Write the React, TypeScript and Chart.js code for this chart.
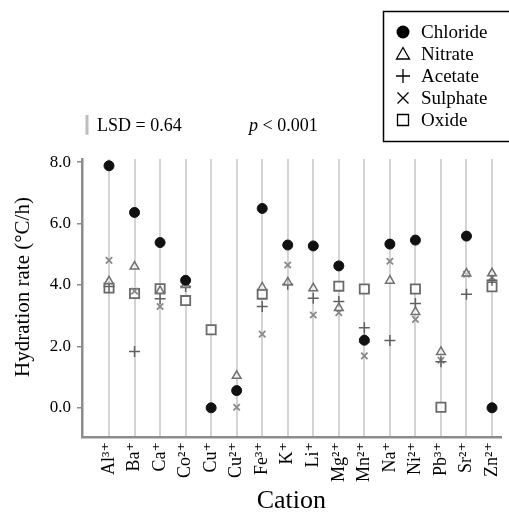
import React, { useEffect, useRef } from "react";
import { Chart, registerables } from "chart.js";

Chart.register(...registerables);

const FAMILY = '"Liberation Serif", "Times New Roman", "DejaVu Serif", serif';

const cations = ["Al³⁺", "Ba⁺", "Ca⁺", "Co²⁺", "Cu⁺", "Cu²⁺", "Fe³⁺", "K⁺", "Li⁺", "Mg²⁺", "Mn²⁺", "Na⁺", "Ni²⁺", "Pb³⁺", "Sr²⁺", "Zn²⁺"];

const chloride = [7.88, 6.36, 5.38, 4.15, 0.0, 0.56, 6.49, 5.3, 5.27, 4.62, 2.2, 5.33, 5.46, null, 5.59, 0.0];
const nitrate = [4.12, 4.6, 3.8, 4.0, null, 1.04, 3.92, 4.08, 3.89, 3.25, 2.22, 4.14, 3.12, 1.82, 4.37, 4.38];
const acetate = [3.95, 1.83, 3.55, 3.95, null, null, 3.3, 4.02, 3.57, 3.46, 2.61, 2.19, 3.4, 1.5, 3.7, 4.15];
const sulphate = [4.8, 3.8, 3.3, 4.05, null, 0.02, 2.4, 4.65, 3.02, 3.1, 1.69, 4.77, 2.88, 1.55, 4.35, 4.25];
const oxide = [3.9, 3.72, 3.88, 3.49, 2.54, null, 3.7, null, null, 3.96, 3.87, null, 3.87, 0.02, null, 3.94];

const yTicks = [0, 2, 4, 6, 8];
const LSD = 0.64;
const seriesNames = ["Chloride", "Nitrate", "Acetate", "Sulphate", "Oxide"];
const yTitle = "Hydration rate (°C/h)";

const toPoints = (arr: (number | null)[]) =>
  arr.map((v, i) => (v == null ? null : { x: i, y: v })).filter((p) => p !== null);

function drawSymbol(ctx: CanvasRenderingContext2D, kind: string, x: number, y: number) {
  ctx.save();
  ctx.strokeStyle = "#000";
  ctx.fillStyle = "#000";
  ctx.lineWidth = 1.3;
  ctx.beginPath();
  if (kind === "circle") {
    ctx.arc(x, y, 6.5, 0, Math.PI * 2);
    ctx.fill();
  } else if (kind === "triangle") {
    ctx.moveTo(x, y - 6.5);
    ctx.lineTo(x + 6.5, y + 5);
    ctx.lineTo(x - 6.5, y + 5);
    ctx.closePath();
    ctx.stroke();
  } else if (kind === "cross") {
    ctx.moveTo(x - 7, y);
    ctx.lineTo(x + 7, y);
    ctx.moveTo(x, y - 7);
    ctx.lineTo(x, y + 7);
    ctx.stroke();
  } else if (kind === "crossRot") {
    ctx.moveTo(x - 5.5, y - 5.5);
    ctx.lineTo(x + 5.5, y + 5.5);
    ctx.moveTo(x + 5.5, y - 5.5);
    ctx.lineTo(x - 5.5, y + 5.5);
    ctx.stroke();
  } else if (kind === "rect") {
    ctx.rect(x - 5.5, y - 5.5, 11, 11);
    ctx.stroke();
  }
  ctx.restore();
}

const annotationPlugin = {
  id: "annotations",
  afterDraw(chart: any) {
    const ctx: CanvasRenderingContext2D = chart.ctx;
    ctx.save();
    // Legend box
    ctx.strokeStyle = "#000";
    ctx.lineWidth = 1.5;
    ctx.strokeRect(383.5, 11.5, 140, 130);
    const kinds = ["circle", "triangle", "cross", "crossRot", "rect"];
    const ys = [32, 54, 76, 98, 120];
    ctx.font = `19px ${FAMILY}`;
    ctx.fillStyle = "#000";
    ctx.textBaseline = "middle";
    ctx.textAlign = "left";
    seriesNames.forEach((name, i) => {
      drawSymbol(ctx, kinds[i], 403, ys[i]);
      ctx.fillText(name, 421, ys[i] + 1);
    });

    // LSD bar
    const yScale = chart.scales.y;
    const len = yScale.getPixelForValue(0) - yScale.getPixelForValue(LSD);
    ctx.fillStyle = "#bdbdbd";
    ctx.fillRect(85.5, 115, 3, len);
    ctx.fillStyle = "#000";
    ctx.font = `18px ${FAMILY}`;
    ctx.fillText(`LSD = ${LSD.toFixed(2)}`, 97, 126);
    ctx.font = `italic 18px ${FAMILY}`;
    ctx.fillText("p", 249, 126);
    const pw = ctx.measureText("p").width;
    ctx.font = `18px ${FAMILY}`;
    ctx.fillText(" < 0.001", 249 + pw, 126);

    // Y axis title
    ctx.save();
    ctx.translate(23, 287);
    ctx.rotate(-Math.PI / 2);
    ctx.font = `21px ${FAMILY}`;
    ctx.textAlign = "center";
    ctx.textBaseline = "middle";
    ctx.fillStyle = "#000";
    ctx.fillText(yTitle, 0, 0);
    ctx.restore();
    ctx.restore();
  },
};

export default function App() {
  const ref = useRef<HTMLCanvasElement>(null);
  useEffect(() => {
    document.body.style.margin = "0";
    const canvas = ref.current;
    if (!canvas) return;
    const chart = new Chart(canvas, {
      type: "scatter",
      data: {
        datasets: [
          {
            label: "Chloride",
            data: toPoints(chloride) as any,
            pointStyle: "circle",
            radius: 5,
            backgroundColor: "#111",
            borderColor: "#111",
            borderWidth: 1,
          },
          {
            label: "Nitrate",
            data: toPoints(nitrate) as any,
            pointStyle: "triangle",
            radius: 5,
            backgroundColor: "rgba(255,255,255,0.5)",
            borderColor: "#707070",
            borderWidth: 1.5,
          },
          {
            label: "Acetate",
            data: toPoints(acetate) as any,
            pointStyle: "cross",
            radius: 5.5,
            borderColor: "#606060",
            borderWidth: 1.5,
          },
          {
            label: "Sulphate",
            data: toPoints(sulphate) as any,
            pointStyle: "crossRot",
            radius: 4.5,
            borderColor: "#8a8a8a",
            borderWidth: 1.8,
          },
          {
            label: "Oxide",
            data: toPoints(oxide) as any,
            pointStyle: "rect",
            radius: 6.5,
            backgroundColor: "rgba(255,255,255,0.8)",
            borderColor: "#6a6a6a",
            borderWidth: 1.8,
          },
        ],
      },
      options: {
        animation: false,
        responsive: true,
        maintainAspectRatio: false,
        layout: { padding: { top: 159, right: 2, left: 0, bottom: 0 } },
        plugins: { legend: { display: false }, tooltip: { enabled: false } },
        scales: {
          x: {
            type: "linear",
            min: -1.058,
            max: 15.34,
            afterBuildTicks: (s: any) => {
              s.ticks = cations.map((_, i) => ({ value: i }));
            },
            afterFit: (s: any) => {
              s.height = 77;
              s.paddingLeft = 0;
              s.paddingRight = 0;
            },
            ticks: {
              autoSkip: false,
              maxRotation: 90,
              minRotation: 90,
              padding: 5,
              color: "#000",
              font: { family: FAMILY, size: 18 },
              callback: (v: any) => cations[v] ?? "",
            },
            grid: { drawOnChartArea: true, drawTicks: false, color: "#d4d4d4", lineWidth: 2 },
            border: { color: "#8c8c8c", width: 2.5 },
            title: {
              display: true,
              text: "Cation",
              color: "#000",
              font: { family: FAMILY, size: 26, lineHeight: 1 },
              padding: { top: 0, bottom: 0 },
            },
          },
          y: {
            min: -0.95,
            max: 8.1,
            afterBuildTicks: (s: any) => {
              s.ticks = yTicks.map((v) => ({ value: v }));
            },
            afterFit: (s: any) => {
              s.width = 82;
              s.paddingTop = 0;
              s.paddingBottom = 0;
            },
            ticks: {
              padding: 6,
              color: "#000",
              font: { family: FAMILY, size: 17 },
              callback: (v: any) => Number(v).toFixed(1),
            },
            grid: { drawOnChartArea: false, drawTicks: true, tickLength: 5, color: "#8c8c8c", lineWidth: 1.5 },
            border: { color: "#8c8c8c", width: 2.5 },
            title: { display: false },
          },
        },
      },
      plugins: [annotationPlugin],
    });
    return () => chart.destroy();
  }, []);
  return (
    <div style={{ width: 509, height: 514, position: "relative" }}>
      <canvas ref={ref} />
    </div>
  );
}
